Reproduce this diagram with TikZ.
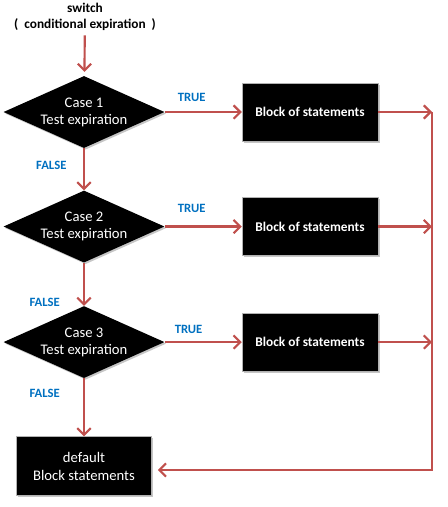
\documentclass[tikz,border=0pt]{standalone}
\usepackage{fontspec}
\setmainfont{Carlito}
\usetikzlibrary{shapes.geometric,arrows.meta,positioning,shadows}
\definecolor{flowred}{RGB}{192,80,77}
\definecolor{trueblue}{RGB}{0,112,192}

\begin{document}
\begin{tikzpicture}[x=0.75pt,y=-0.75pt,
  decision/.style={diamond, fill=black, text=white, aspect=2.24, inner sep=0pt,
    minimum width=120.75pt, minimum height=54pt, align=center,
    font=\fontsize{11}{12.75}\selectfont,
    drop shadow={shadow xshift=1.2pt, shadow yshift=-1.2pt, fill=gray, opacity=.45}},
  block/.style={rectangle, fill=black, draw=gray!60, text=white,
    minimum width=102pt, minimum height=43.5pt, align=center,
    font=\bfseries\fontsize{10}{12}\selectfont,
    drop shadow={shadow xshift=1.2pt, shadow yshift=-1.2pt, fill=gray, opacity=.45}},
  flow/.style={draw=flowred, line width=1.6pt, -{Straight Barb[length=5pt,width=10pt]}},
  lbl/.style={text=trueblue, font=\bfseries\fontsize{9.5}{11}\selectfont}]
  \useasboundingbox (0,0) rectangle (448,507);

  \node[font=\bfseries\fontsize{10}{12}\selectfont, align=center] (sw) at (85,17)
    {switch\\(~~conditional expiration~~)};
  \node[decision] (d1) at (84,112) {Case 1\\Test expiration};
  \node[decision] (d2) [below=31.5pt of d1] {Case 2\\Test expiration};
  \node[decision] (d3) [below=32.25pt of d2] {Case 3\\Test expiration};
  \node[block, minimum width=101.25pt, minimum height=44.25pt,
    font=\fontsize{11}{13.5}\selectfont] (dflt) [below=43.5pt of d3] {default\\Block statements};

  \node[block] (b1) [right=57.75pt of d1] {Block of statements};
  \node[block] (b2) [right=57.75pt of d2] {Block of statements};
  \node[block] (b3) [right=57.75pt of d3] {Block of statements};
  \coordinate (rail) at (432,470);

  % down the cases
  \draw[flow, shorten >=3pt] (sw) -- (d1);
  \draw[flow] (d1) -- node[lbl, left=9pt, pos=0.4] {FALSE} (d2);
  \draw[flow] (d2) -- node[lbl, left=14pt, pos=0.93] {FALSE} (d3);
  \draw[flow] (d3) -- node[lbl, left=14pt, pos=0.26] {FALSE} (dflt);

  % true branches
  \draw[flow] (d1) -- node[lbl, above=4pt, pos=0.35] {TRUE} (b1);
  \draw[flow] (d2) -- node[lbl, above=6pt, pos=0.35] {TRUE} (b2);
  \draw[flow] (d3) -- node[lbl, above=2pt, pos=0.31] {TRUE} (b3);

  % back to default
  \draw[flow] (b1) -- (b1 -| rail);
  \draw[flow] (b2) -- (b2 -| rail);
  \draw[flow] (b3) -- (b3 -| rail);
  \draw[flow, shorten >=4.5pt] (b1 -| rail) -- (rail) -- (dflt.east |- rail);
\end{tikzpicture}
\end{document}
